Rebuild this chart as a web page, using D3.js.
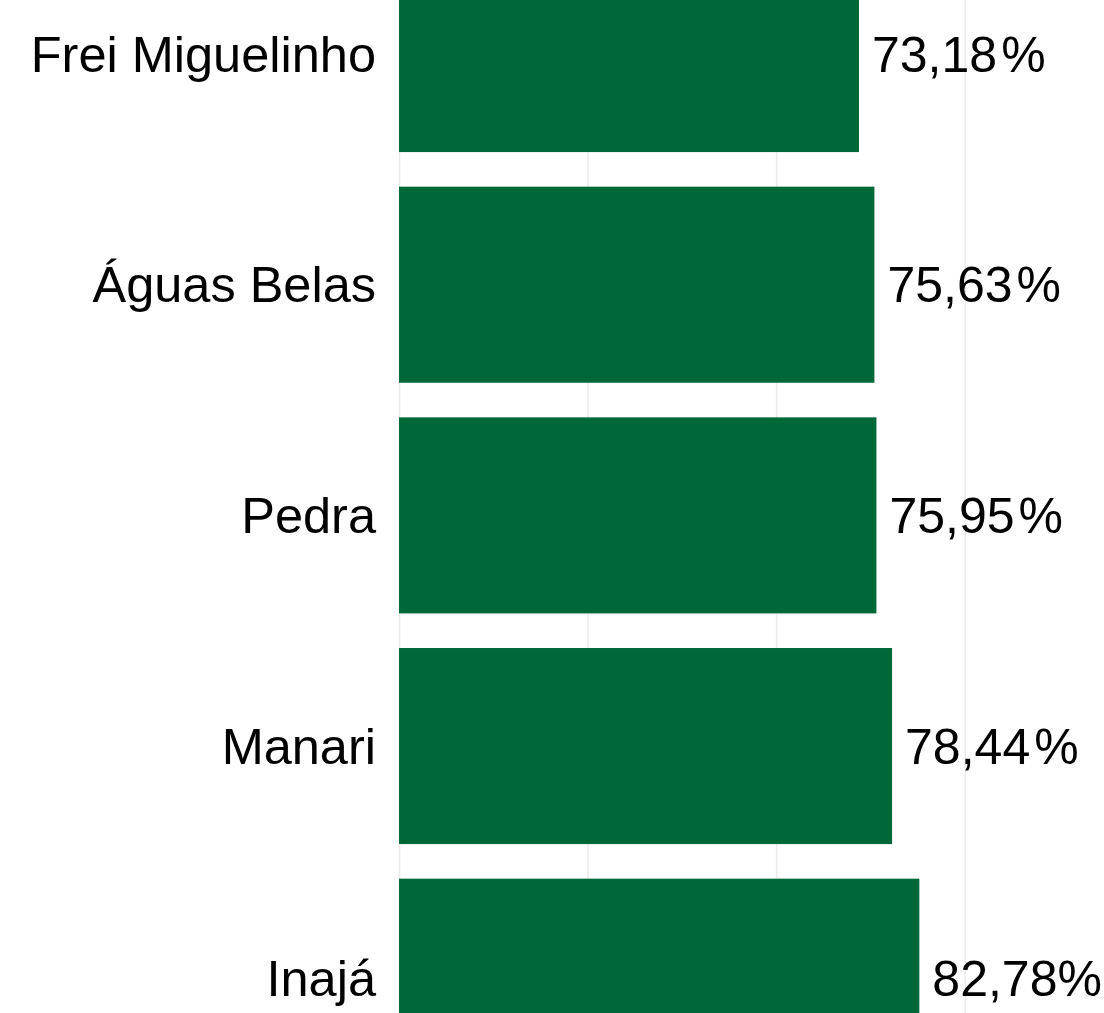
<!DOCTYPE html>
<html>
<head>
    <meta charset="utf-8">
    <script src="https://d3js.org/d3.v7.min.js"></script>
    <style>
        body { margin: 0; background: #fff; }
        text { font-family: "Liberation Sans", Arial, sans-serif; }
    </style>
</head>
<body>
    <svg width="1104" height="1013"></svg>
    <script>
        // data
        const cities = ["Frei Miguelinho", "Águas Belas", "Pedra", "Manari", "Inajá"];
        const values = [73.18, 75.63, 75.95, 78.44, 82.78];
        const gridTicks = [0, 30, 60, 90];

        const svg = d3.select("svg");
        const width = 1104, height = 1013;

        // scales (chart is cropped at the top and bottom)
        const x = d3.scaleLinear().domain([0, 100]).range([399, 1027.6]);
        const y = d3.scaleBand()
            .domain(cities)
            .range([-61.3, -61.3 + 5 * 230.67])
            .paddingInner(0.15)
            .paddingOuter(0.075);

        // vertical gridlines
        svg.append("g")
            .selectAll("line")
            .data(gridTicks)
            .enter().append("line")
            .attr("x1", d => x(d) + 0.5)
            .attr("x2", d => x(d) + 0.5)
            .attr("y1", 0)
            .attr("y2", height)
            .style("stroke", "#ebebeb")
            .style("stroke-width", 1.5);

        // bars
        const data = cities.map((c, i) => ({city: c, value: values[i]}));

        svg.append("g")
            .selectAll("rect")
            .data(data)
            .enter().append("rect")
            .attr("x", x(0))
            .attr("y", d => y(d.city))
            .attr("width", d => x(d.value) - x(0))
            .attr("height", y.bandwidth())
            .style("fill", "#006838");

        // last row is pulled up a little so its label stays in view
        const labelY = (d, i) => i === cities.length - 1 ? 978 : y(d.city) + y.bandwidth() / 2;

        // category labels
        svg.append("g")
            .selectAll("text")
            .data(data)
            .enter().append("text")
            .attr("x", 376)
            .attr("y", labelY)
            .attr("dy", "0.35em")
            .style("text-anchor", "end")
            .style("font-size", "50.5px")
            .style("fill", "#000")
            .text(d => d.city);

        // value labels
        const fmt = v => v.toFixed(2).replace(".", ",");
        const vl = svg.append("g")
            .selectAll("text")
            .data(data)
            .enter().append("text")
            .attr("x", d => x(d.value) + 13)
            .attr("y", labelY)
            .attr("dy", "0.35em")
            .style("font-size", "50px")
            .style("fill", "#000");

        vl.append("tspan").text(d => fmt(d.value));
        vl.append("tspan")
            .attr("dx", (d, i) => i === cities.length - 1 ? 0 : 4)
            .text("%");
    </script>
</body>
</html>
